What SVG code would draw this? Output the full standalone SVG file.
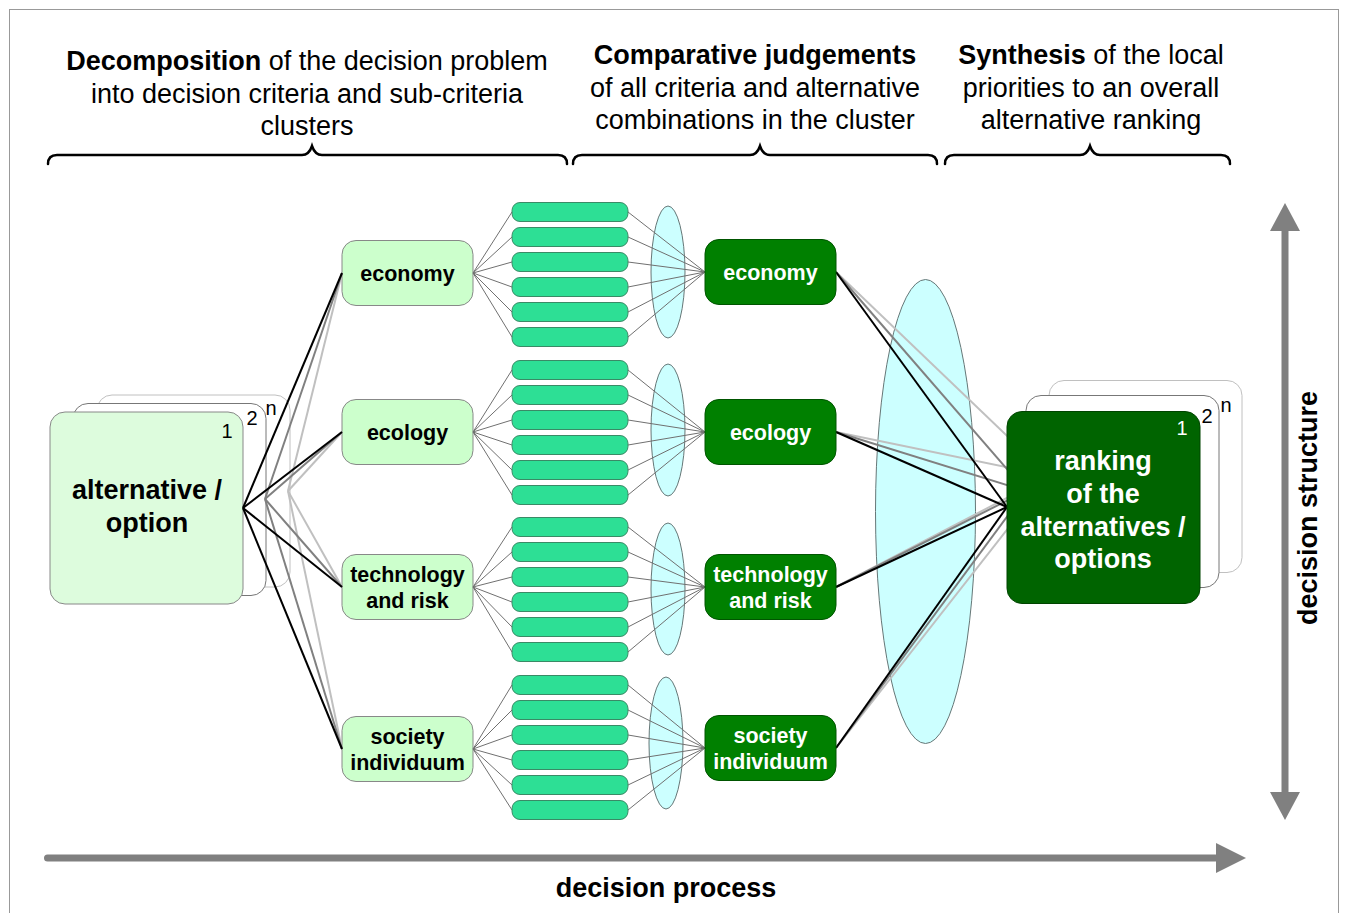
<svg xmlns="http://www.w3.org/2000/svg" width="1345" height="913" viewBox="0 0 1345 913">
<style>
text{font-family:"Liberation Sans",Arial,sans-serif;}
.t{font-size:27px;fill:#000;text-anchor:middle;}
.b{font-weight:bold;}
.brace{fill:none;stroke:#000;stroke-width:2.5;stroke-linecap:round;}
.crit{fill:#ccffcc;stroke:#888;stroke-width:1;}
.crt{font-size:21.5px;font-weight:bold;fill:#000;text-anchor:middle;}
.dark{fill:#008000;stroke:#005500;stroke-width:1;}
.dkt{font-size:21.5px;font-weight:bold;fill:#fff;text-anchor:middle;}
.bar{fill:#2ddf95;stroke:#3a8a66;stroke-width:1;}
.ell{fill:#ccffff;stroke:#667777;stroke-width:1;}
.thin{stroke:#707070;stroke-width:1;fill:none;}
.k{stroke:#000;stroke-width:2;}
.g{stroke:#808080;stroke-width:2;}
.l{stroke:#c0c0c0;stroke-width:2;}
.num{font-size:20px;text-anchor:middle;}
.arrow{fill:#808080;}
</style>
<rect x="9.5" y="9.5" width="1329" height="920" fill="#fff" stroke="#999" stroke-width="1"/>

<g id="titles">
<text class="t" x="307" y="70"><tspan class="b">Decomposition</tspan> of the decision problem</text>
<text class="t" x="307" y="102.5">into decision criteria and sub-criteria</text>
<text class="t" x="307" y="135">clusters</text>
<text class="t" x="755" y="64"><tspan class="b">Comparative judgements</tspan></text>
<text class="t" x="755" y="96.5">of all criteria and alternative</text>
<text class="t" x="755" y="129">combinations in the cluster</text>
<text class="t" x="1091" y="64"><tspan class="b">Synthesis</tspan> of the local</text>
<text class="t" x="1091" y="96.5">priorities to an overall</text>
<text class="t" x="1091" y="129">alternative ranking</text>
<path class="brace" d="M48,164 Q48,155 57,155 L302,155 Q309,155 312,146 Q315,155 322,155 L558,155 Q567,155 567,164"/>
<path class="brace" d="M573,164 Q573,155 582,155 L750,155 Q757,155 760,146 Q763,155 770,155 L928,155 Q937,155 937,164"/>
<path class="brace" d="M945,164 Q945,155 954,155 L1080,155 Q1087,155 1090,146 Q1093,155 1100,155 L1221,155 Q1230,155 1230,164"/>
</g>

<g id="alternative">
<rect x="97" y="395" width="193" height="192" rx="15" fill="#fff" stroke="#c0c0c0"/>
<rect x="73" y="403.5" width="193" height="192" rx="15" fill="#fff" stroke="#777"/>
<rect x="50" y="412" width="193" height="192" rx="15" fill="#ddfcdd" stroke="#888"/>
<text class="num" x="271" y="415">n</text>
<text class="num" x="252" y="425">2</text>
<text class="num" x="227" y="438">1</text>
<text class="t b" x="147" y="499">alternative /</text>
<text class="t b" x="147" y="532">option</text>
</g>

<g id="criteria">
<g id="c-economy"><rect class="crit" x="342" y="240.5" width="131" height="65" rx="14"/><text class="crt" x="407.5" y="280.5">economy</text></g>
<g id="c-ecology"><rect class="crit" x="342" y="399.5" width="131" height="65" rx="14"/><text class="crt" x="407.5" y="439.5">ecology</text></g>
<g id="c-technology"><rect class="crit" x="342" y="554.5" width="131" height="65" rx="14"/><text class="crt" x="407.5" y="581.5">technology</text><text class="crt" x="407.5" y="607.5">and risk</text></g>
<g id="c-society"><rect class="crit" x="342" y="716.5" width="131" height="65" rx="14"/><text class="crt" x="407.5" y="743.5">society</text><text class="crt" x="407.5" y="769.5">individuum</text></g>
</g>

<g id="subcriteria">
<rect class="bar" x="512" y="202.5" width="116" height="19" rx="8"/>
<rect class="bar" x="512" y="227.5" width="116" height="19" rx="8"/>
<rect class="bar" x="512" y="252.5" width="116" height="19" rx="8"/>
<rect class="bar" x="512" y="277.5" width="116" height="19" rx="8"/>
<rect class="bar" x="512" y="302.5" width="116" height="19" rx="8"/>
<rect class="bar" x="512" y="327.5" width="116" height="19" rx="8"/>
<rect class="bar" x="512" y="360.5" width="116" height="19" rx="8"/>
<rect class="bar" x="512" y="385.5" width="116" height="19" rx="8"/>
<rect class="bar" x="512" y="410.5" width="116" height="19" rx="8"/>
<rect class="bar" x="512" y="435.5" width="116" height="19" rx="8"/>
<rect class="bar" x="512" y="460.5" width="116" height="19" rx="8"/>
<rect class="bar" x="512" y="485.5" width="116" height="19" rx="8"/>
<rect class="bar" x="512" y="517.5" width="116" height="19" rx="8"/>
<rect class="bar" x="512" y="542.5" width="116" height="19" rx="8"/>
<rect class="bar" x="512" y="567.5" width="116" height="19" rx="8"/>
<rect class="bar" x="512" y="592.5" width="116" height="19" rx="8"/>
<rect class="bar" x="512" y="617.5" width="116" height="19" rx="8"/>
<rect class="bar" x="512" y="642.5" width="116" height="19" rx="8"/>
<rect class="bar" x="512" y="675.5" width="116" height="19" rx="8"/>
<rect class="bar" x="512" y="700.5" width="116" height="19" rx="8"/>
<rect class="bar" x="512" y="725.5" width="116" height="19" rx="8"/>
<rect class="bar" x="512" y="750.5" width="116" height="19" rx="8"/>
<rect class="bar" x="512" y="775.5" width="116" height="19" rx="8"/>
<rect class="bar" x="512" y="800.5" width="116" height="19" rx="8"/>
</g>

<g id="clusters">
<ellipse class="ell" cx="668" cy="272" rx="17" ry="66"/>
<ellipse class="ell" cx="668" cy="430" rx="17" ry="66"/>
<ellipse class="ell" cx="668" cy="589" rx="17" ry="66"/>
<ellipse class="ell" cx="666" cy="743" rx="17" ry="66"/>
<ellipse class="ell" cx="925.5" cy="511.5" rx="50" ry="232"/>
</g>

<g id="connectors">
<g class="thin">
<path d="M473,273 L512,212 M473,273 L512,237 M473,273 L512,262 M473,273 L512,287 M473,273 L512,312 M473,273 L512,337"/>
<path d="M473,432 L512,370 M473,432 L512,395 M473,432 L512,420 M473,432 L512,445 M473,432 L512,470 M473,432 L512,495"/>
<path d="M473,587 L512,527 M473,587 L512,552 M473,587 L512,577 M473,587 L512,602 M473,587 L512,627 M473,587 L512,652"/>
<path d="M473,749 L512,685 M473,749 L512,710 M473,749 L512,735 M473,749 L512,760 M473,749 L512,785 M473,749 L512,810"/>
<path d="M628,212 L705,272 M628,237 L705,272 M628,262 L705,272 M628,287 L705,272 M628,312 L705,272 M628,337 L705,272"/>
<path d="M628,370 L705,432 M628,395 L705,432 M628,420 L705,432 M628,445 L705,432 M628,470 L705,432 M628,495 L705,432"/>
<path d="M628,527 L705,587 M628,552 L705,587 M628,577 L705,587 M628,602 L705,587 M628,627 L705,587 M628,652 L705,587"/>
<path d="M628,685 L705,748 M628,710 L705,748 M628,735 L705,748 M628,760 L705,748 M628,785 L705,748 M628,810 L705,748"/>
</g>
<g class="l">
<line x1="288" y1="491" x2="342" y2="273"/><line x1="288" y1="491" x2="342" y2="432"/><line x1="288" y1="491" x2="342" y2="587"/><line x1="288" y1="491" x2="342" y2="749"/>
<line x1="836" y1="272" x2="1049" y2="476"/><line x1="836" y1="432" x2="1049" y2="476"/><line x1="836" y1="587" x2="1049" y2="476"/><line x1="836" y1="748" x2="1049" y2="476"/>
</g>
<g class="g">
<line x1="265" y1="499" x2="342" y2="273"/><line x1="265" y1="499" x2="342" y2="432"/><line x1="265" y1="499" x2="342" y2="587"/><line x1="265" y1="499" x2="342" y2="749"/>
<line x1="836" y1="272" x2="1026" y2="491"/><line x1="836" y1="432" x2="1026" y2="491"/><line x1="836" y1="587" x2="1026" y2="491"/><line x1="836" y1="748" x2="1026" y2="491"/>
</g>
<g class="k">
<line x1="243" y1="508" x2="342" y2="273"/><line x1="243" y1="508" x2="342" y2="432"/><line x1="243" y1="508" x2="342" y2="587"/><line x1="243" y1="508" x2="342" y2="749"/>
<line x1="836" y1="272" x2="1007" y2="507"/><line x1="836" y1="432" x2="1007" y2="507"/><line x1="836" y1="587" x2="1007" y2="507"/><line x1="836" y1="748" x2="1007" y2="507"/>
</g>
</g>

<g id="judged">
<g id="d-economy"><rect class="dark" x="705" y="239.5" width="131" height="65" rx="14"/><text class="dkt" x="770.5" y="279.5">economy</text></g>
<g id="d-ecology"><rect class="dark" x="705" y="399.5" width="131" height="65" rx="14"/><text class="dkt" x="770.5" y="439.5">ecology</text></g>
<g id="d-technology"><rect class="dark" x="705" y="554.5" width="131" height="65" rx="14"/><text class="dkt" x="770.5" y="581.5">technology</text><text class="dkt" x="770.5" y="607.5">and risk</text></g>
<g id="d-society"><rect class="dark" x="705" y="715.5" width="131" height="65" rx="14"/><text class="dkt" x="770.5" y="742.5">society</text><text class="dkt" x="770.5" y="768.5">individuum</text></g>
</g>

<g id="ranking">
<rect x="1049" y="380.5" width="193" height="192" rx="15" fill="#fff" stroke="#c0c0c0"/>
<rect x="1026" y="395.5" width="193" height="192" rx="15" fill="#fff" stroke="#777"/>
<rect x="1007" y="411.5" width="193" height="192" rx="15" fill="#006400" stroke="#004400"/>
<text class="num" x="1226" y="412">n</text>
<text class="num" x="1207" y="423">2</text>
<text class="num" x="1182" y="435" fill="#fff">1</text>
<text class="t b" x="1103" y="470" fill="#fff" style="fill:#fff">ranking</text>
<text class="t b" x="1103" y="503" style="fill:#fff">of the</text>
<text class="t b" x="1103" y="536" style="fill:#fff">alternatives /</text>
<text class="t b" x="1103" y="568" style="fill:#fff">options</text>
</g>

<g id="axes">
<rect class="arrow" x="1281.5" y="228" width="7" height="567"/>
<polygon class="arrow" points="1285,203 1300,231 1270,231"/>
<polygon class="arrow" points="1285,820 1300,792 1270,792"/>
<text class="t b" transform="translate(1317,508) rotate(-90)" x="0" y="0">decision structure</text>
<rect class="arrow" x="44" y="854.5" width="1175" height="7" rx="3.5"/>
<polygon class="arrow" points="1216,843 1246,858 1216,873"/>
<text class="t b" x="666" y="897">decision process</text>
</g>
</svg>
